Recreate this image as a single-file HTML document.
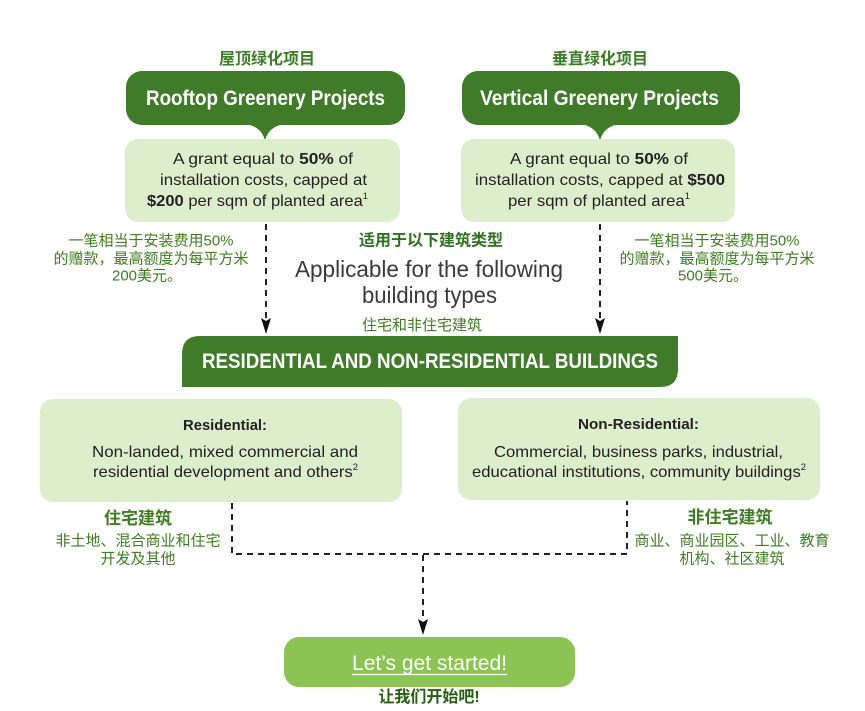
<!DOCTYPE html>
<html><head><meta charset="utf-8"><style>
html,body{margin:0;padding:0;background:#fff;}
svg{display:block;}
text{font-family:"Liberation Sans","Noto Sans CJK SC",sans-serif;}
.cn{font-family:"Liberation Sans","Noto Sans CJK SC",sans-serif;}
</style></head><body>
<svg width="865" height="711" viewBox="0 0 865 711" xmlns="http://www.w3.org/2000/svg">
<!-- Chinese titles -->
<text x="267" y="64" font-size="16" font-weight="bold" fill="#3d7d28" text-anchor="middle" class="cn">屋顶绿化项目</text>
<text x="600" y="64" font-size="16" font-weight="bold" fill="#3d7d28" text-anchor="middle" class="cn">垂直绿化项目</text>

<!-- Dark title boxes with pointers -->
<rect x="126" y="71" width="279" height="54" rx="16" fill="#3f7b28"/>
<path d="M246,124 Q262,127 265,141 Q268,127 284,124 Z" fill="#3f7b28"/>
<rect x="462" y="71" width="278" height="54" rx="16" fill="#3f7b28"/>
<path d="M581,124 Q597,127 600,141 Q603,127 619,124 Z" fill="#3f7b28"/>
<text x="146" y="105" font-size="21" font-weight="bold" fill="#fff" textLength="239" lengthAdjust="spacingAndGlyphs">Rooftop Greenery Projects</text>
<text x="480" y="105" font-size="21" font-weight="bold" fill="#fff" textLength="239" lengthAdjust="spacingAndGlyphs">Vertical Greenery Projects</text>

<!-- Light grant boxes -->
<rect x="125" y="139" width="275" height="83" rx="13" fill="#ddeecd"/>
<rect x="461" y="139" width="274" height="83" rx="13" fill="#ddeecd"/>
<g font-size="16" fill="#222">
<text x="173" y="164" textLength="180" lengthAdjust="spacingAndGlyphs">A grant equal to <tspan font-weight="bold">50%</tspan> of</text>
<text x="160" y="185" textLength="207" lengthAdjust="spacingAndGlyphs">installation costs, capped at</text>
<text x="147" y="206" textLength="221" lengthAdjust="spacingAndGlyphs"><tspan font-weight="bold">$200</tspan> per sqm of planted area<tspan font-size="9" dy="-7">1</tspan></text>
<text x="510" y="164" textLength="178" lengthAdjust="spacingAndGlyphs">A grant equal to <tspan font-weight="bold">50%</tspan> of</text>
<text x="475" y="185" textLength="250" lengthAdjust="spacingAndGlyphs">installation costs, capped at <tspan font-weight="bold">$500</tspan></text>
<text x="508" y="206" textLength="182" lengthAdjust="spacingAndGlyphs">per sqm of planted area<tspan font-size="9" dy="-7">1</tspan></text>
</g>

<!-- Side Chinese notes -->
<g font-size="15" fill="#3e7d22" text-anchor="middle" class="cn">
<text x="151" y="245.5">一笔相当于安装费用50%</text>
<text x="151" y="263.5">的赠款，最高额度为每平方米</text>
<text x="147" y="280.5">200美元。</text>
<text x="717" y="245.5">一笔相当于安装费用50%</text>
<text x="717" y="263.5">的赠款，最高额度为每平方米</text>
<text x="713" y="280.5">500美元。</text>
</g>

<!-- Middle text -->
<text x="431" y="245.5" font-size="16" font-weight="bold" fill="#2f7220" text-anchor="middle" class="cn">适用于以下建筑类型</text>
<text x="295" y="277" font-size="23" fill="#3a3a3a" textLength="268" lengthAdjust="spacingAndGlyphs">Applicable for the following</text>
<text x="362" y="303" font-size="23" fill="#3a3a3a" textLength="135" lengthAdjust="spacingAndGlyphs">building types</text>
<text x="422" y="330" font-size="15" fill="#3e7d22" text-anchor="middle" class="cn">住宅和非住宅建筑</text>

<!-- Dashed arrows top -->
<g stroke="#222" stroke-width="2" fill="none" stroke-dasharray="6,5">
<line x1="266" y1="224" x2="266" y2="320"/>
<line x1="600" y1="224" x2="600" y2="320"/>
</g>
<path d="M261,318 L266,321 L271,318 L266,334 Z" fill="#111"/>
<path d="M595,318 L600,321 L605,318 L600,334 Z" fill="#111"/>

<!-- Banner -->
<path d="M200,336 L678,336 L678,369 Q678,387 660,387 L182,387 L182,354 Q182,336 200,336 Z" fill="#3f7b28"/>
<text x="202" y="368" font-size="21" font-weight="bold" fill="#fff" textLength="456" lengthAdjust="spacingAndGlyphs">RESIDENTIAL AND NON-RESIDENTIAL BUILDINGS</text>

<!-- Building type boxes -->
<rect x="40" y="399" width="362" height="103" rx="13" fill="#ddeecd"/>
<rect x="458" y="398" width="362" height="102" rx="13" fill="#ddeecd"/>
<g fill="#222">
<text x="183" y="430" font-size="15" font-weight="bold" textLength="84" lengthAdjust="spacingAndGlyphs">Residential:</text>
<text x="92" y="457" font-size="16" textLength="266" lengthAdjust="spacingAndGlyphs">Non-landed, mixed commercial and</text>
<text x="93" y="477" font-size="16" textLength="265" lengthAdjust="spacingAndGlyphs">residential development and others<tspan font-size="9" dy="-7">2</tspan></text>
<text x="578" y="429" font-size="15" font-weight="bold" textLength="121" lengthAdjust="spacingAndGlyphs">Non-Residential:</text>
<text x="494" y="457" font-size="16" textLength="289" lengthAdjust="spacingAndGlyphs">Commercial, business parks, industrial,</text>
<text x="472" y="477" font-size="16" textLength="334" lengthAdjust="spacingAndGlyphs">educational institutions, community buildings<tspan font-size="9" dy="-7">2</tspan></text>
</g>

<!-- Chinese under boxes -->
<text x="138" y="524" font-size="17" font-weight="bold" fill="#3e7d22" text-anchor="middle" class="cn">住宅建筑</text>
<g font-size="15" fill="#3e7d22" text-anchor="middle" class="cn">
<text x="138" y="545.5">非土地、混合商业和住宅</text>
<text x="138" y="563.5">开发及其他</text>
<text x="732" y="545.5">商业、商业园区、工业、教育</text>
<text x="732" y="563.5">机构、社区建筑</text>
</g>
<text x="730" y="523" font-size="17" font-weight="bold" fill="#3e7d22" text-anchor="middle" class="cn">非住宅建筑</text>

<!-- Dashed connectors bottom -->
<g stroke="#222" stroke-width="2" fill="none" stroke-dasharray="6,5">
<polyline points="232,503 232,554 627,554 627,501"/>
<line x1="423" y1="555" x2="423" y2="621"/>
</g>
<path d="M418,619 L423,622 L428,619 L423,635 Z" fill="#111"/>

<!-- Button -->
<rect x="284" y="637" width="291" height="50" rx="15" fill="#8bc453"/>
<text x="352" y="670" font-size="21" fill="#fff" textLength="155" lengthAdjust="spacingAndGlyphs">Let’s get started!</text>
<line x1="352" y1="674.5" x2="507" y2="674.5" stroke="#fff" stroke-width="1.2"/>
<text x="429" y="702" font-size="16" font-weight="bold" fill="#24600f" text-anchor="middle" class="cn">让我们开始吧!</text>
</svg>
</body></html>
